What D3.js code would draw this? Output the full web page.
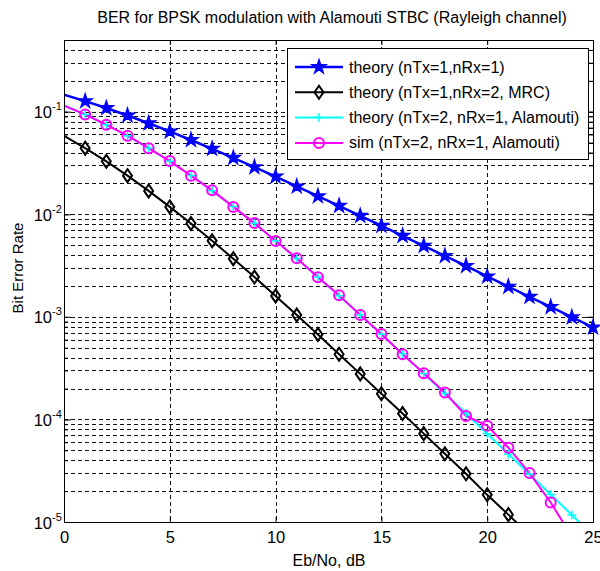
<!DOCTYPE html>
<html>
<head>
<meta charset="utf-8">
<script src="https://cdn.jsdelivr.net/npm/d3@7"></script>
<style>
  body { margin: 0; background: #fff; }
  svg { display: block; font-family: "Liberation Sans", Arial, Helvetica, sans-serif; }
</style>
</head>
<body>
<svg id="chart" width="600" height="571"></svg>
<script>
// Eb/No points (dB)
const ebNo = d3.range(0, 26)

// theory, 1 tx 1 rx rayleigh
const berTheory1x1 = [0.1464, 0.1267, 0.1085, 0.0919, 0.0771, 0.0642, 0.0530, 0.0435, 0.0355, 0.0288,
  0.0233, 0.0187, 0.0150, 0.0121, 0.00966, 0.00773, 0.00617, 0.00493, 0.00393, 0.00314,
  0.00248, 0.00197, 0.00157, 0.00125, 0.000992, 0.000789]

// theory, MRC 1 tx 2 rx
const berMrc = [0.0580, 0.0441, 0.0328, 0.0238, 0.0169, 0.0118, 0.00813, 0.00551, 0.00369, 0.00244,
  0.00160, 0.00104, 0.000674, 0.000432, 0.000278, 0.000178, 0.000114, 7.27e-5, 4.62e-5, 2.95e-5,
  1.84e-5, 1.18e-5, 7.46e-6, 4.7e-6, 3.0e-6, 1.9e-6]

// theory, Alamouti 2 tx 1 rx
const berAlamouti = [0.1151, 0.0939, 0.0748, 0.0582, 0.0442, 0.0329, 0.0239, 0.0170, 0.0119, 0.00816,
  0.00553, 0.00370, 0.00245, 0.00161, 0.00105, 0.000677, 0.000436, 0.000280, 0.000179, 0.000114,
  7.25e-5, 4.61e-5, 2.92e-5, 1.85e-5, 1.17e-5, 7.42e-6]

// simulation, Alamouti 2 tx 1 rx
const berAlamoutiSim = [0.1148, 0.0941, 0.0746, 0.0584, 0.0441, 0.0330, 0.0238, 0.0171, 0.0118, 0.00820,
  0.00550, 0.00372, 0.00243, 0.00162, 0.00104, 0.000680, 0.000432, 0.000282, 0.000183, 0.000108,
  8.7e-5, 5.3e-5, 3.0e-5, 1.55e-5, 7.2e-6, 4.0e-6]

const legendLabels = ["theory (nTx=1,nRx=1)", "theory (nTx=1,nRx=2, MRC)",
  "theory (nTx=2, nRx=1, Alamouti)", "sim (nTx=2, nRx=1, Alamouti)"]
const xTicks = [0, 5, 10, 15, 20, 25]
const yDecades = [1e-5, 1e-4, 1e-3, 1e-2, 1e-1]

const box = {left: 64, right: 593, top: 40, bottom: 522}

const series = [
  {values: berTheory1x1, color: "#0000ff", marker: "star", width: 2.5},
  {values: berMrc, color: "#000000", marker: "diamond", width: 2},
  {values: berAlamouti, color: "#00ffff", marker: "plus", width: 2},
  {values: berAlamoutiSim, color: "#ff00ff", marker: "circle", width: 2}
]
series.forEach((s, i) => s.label = legendLabels[i])

const svg = d3.select("#chart")

const x = d3.scaleLinear().domain([0, 25]).range([box.left, box.right])
const y = d3.scaleLog().domain([1e-5, 0.5]).range([box.bottom, box.top])

svg.append("defs").append("clipPath").attr("id", "plotClip")
  .append("rect")
  .attr("x", box.left).attr("y", box.top)
  .attr("width", box.right - box.left).attr("height", box.bottom - box.top)

// grid (dashed, like matlab "grid on")
const minorVals = y.ticks().filter(v => v > 1e-5 * 1.001 && v < 0.5 * 0.999)
const grid = svg.append("g").attr("class", "grid")
  .attr("stroke", "#111").attr("stroke-width", 1).attr("stroke-dasharray", "4,3")
grid.selectAll(".gy").data(minorVals).enter().append("line")
  .attr("x1", box.left).attr("x2", box.right)
  .attr("y1", d => Math.round(y(d)) + 0.5).attr("y2", d => Math.round(y(d)) + 0.5)
grid.selectAll(".gx").data(xTicks.filter(v => v > 0 && v < 25)).enter().append("line")
  .attr("y1", box.top).attr("y2", box.bottom)
  .attr("x1", d => Math.round(x(d)) + 0.5).attr("x2", d => Math.round(x(d)) + 0.5)

// axes, ticks pointing inward
const tickGroup = (axis, tx, ty) => {
  const g = svg.append("g").attr("transform", `translate(${tx},${ty})`).call(axis)
  g.select(".domain").remove()
  g.selectAll("line").attr("stroke", "#000")
  return g
}
const xb = tickGroup(d3.axisBottom(x).tickValues(xTicks).tickSize(-5).tickPadding(9), 0, box.bottom)
xb.selectAll("text").attr("font-size", 16.5).attr("font-family", null).attr("fill", "#000")
tickGroup(d3.axisTop(x).tickValues(xTicks).tickSize(-5).tickFormat(""), 0, box.top)
tickGroup(d3.axisLeft(y).tickValues(yDecades).tickSize(-7).tickFormat(""), box.left, 0)
tickGroup(d3.axisLeft(y).tickValues(minorVals).tickSize(-4).tickFormat(""), box.left, 0)
tickGroup(d3.axisRight(y).tickValues(yDecades).tickSize(-7).tickFormat(""), box.right, 0)
tickGroup(d3.axisRight(y).tickValues(minorVals).tickSize(-4).tickFormat(""), box.right, 0)

// y tick labels 10^n
const yLab = svg.append("g").selectAll("text").data(yDecades).enter().append("text")
  .attr("x", 52).attr("y", d => y(d) + 6.5)
  .attr("text-anchor", "end").attr("font-size", 16.5)
yLab.append("tspan").text("10")
yLab.append("tspan").attr("x", 52).attr("dy", -8).attr("text-anchor", "start")
  .attr("font-size", 11).text(d => Math.round(Math.log10(d)))

// lines
const line = d3.line().x((d, i) => x(ebNo[i])).y(d => y(d))
const plot = svg.append("g")
plot.append("g").attr("clip-path", "url(#plotClip)")
  .selectAll("path").data(series).enter().append("path")
  .attr("fill", "none")
  .attr("stroke", d => d.color)
  .attr("stroke-width", d => d.width)
  .attr("stroke-linejoin", "round")
  .attr("d", d => line(d.values))

// markers
const starPath = d3.symbol().type(d3.symbolStar).size(58)()
const drawMarker = (g, s) => {
  if (s.marker === "star") {
    g.append("path").attr("d", starPath).attr("fill", s.color).attr("stroke", s.color).attr("stroke-width", 1.5)
  } else if (s.marker === "diamond") {
    g.append("path").attr("d", "M0,-6.5L4.5,0L0,6.5L-4.5,0Z").attr("fill", "none")
      .attr("stroke", s.color).attr("stroke-width", 2)
  } else if (s.marker === "plus") {
    g.append("path").attr("d", "M-4.5,0H4.5M0,-4.5V4.5").attr("fill", "none")
      .attr("stroke", s.color).attr("stroke-width", 1.5)
  } else {
    g.append("circle").attr("r", 5).attr("fill", "none")
      .attr("stroke", s.color).attr("stroke-width", 2)
  }
}
series.forEach(s => {
  const pts = s.values.map((v, i) => ({x: ebNo[i], v: v})).filter(p => p.x > 0 && p.v >= 1e-5)
  plot.append("g").selectAll("g").data(pts).enter().append("g")
    .attr("transform", p => `translate(${x(p.x)},${y(p.v)})`)
    .each(function() { drawMarker(d3.select(this), s) })
})

// axes box
svg.append("rect")
  .attr("x", box.left + 0.5).attr("y", box.top + 0.5)
  .attr("width", box.right - box.left).attr("height", box.bottom - box.top)
  .attr("fill", "none").attr("stroke", "#000").attr("stroke-width", 1)

// legend
const leg = svg.append("g").attr("transform", "translate(287,48)")
leg.append("rect").attr("x", 0.5).attr("y", 0.5).attr("width", 301).attr("height", 111)
  .attr("fill", "#fff").attr("stroke", "#000")
const rows = leg.selectAll(".row").data(series).enter().append("g")
  .attr("transform", (d, i) => `translate(0,${19 + i * 25.3})`)
rows.append("line").attr("x1", 8).attr("x2", 56)
  .attr("stroke", d => d.color).attr("stroke-width", d => d.width)
rows.each(function(d) {
  const m = d3.select(this).append("g").attr("transform", "translate(32,0)")
  drawMarker(m, d)
})
rows.append("text").attr("x", 62).attr("y", 5.5).attr("font-size", 16).text(d => d.label)

// title and labels
svg.append("text").attr("x", 332).attr("y", 23).attr("text-anchor", "middle")
  .attr("font-size", 16).text("BER for BPSK modulation with Alamouti STBC (Rayleigh channel)")
svg.append("text").attr("x", 329).attr("y", 566).attr("text-anchor", "middle")
  .attr("font-size", 16).text("Eb/No, dB")
svg.append("text").attr("transform", "translate(23,268) rotate(-90)").attr("text-anchor", "middle")
  .attr("font-size", 15).text("Bit Error Rate")
</script>
</body>
</html>
